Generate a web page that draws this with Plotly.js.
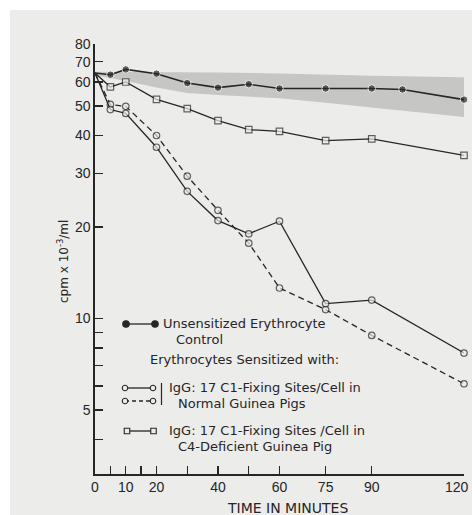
<!DOCTYPE html>
<html>
<head>
<meta charset="utf-8">
<script src="https://cdn.plot.ly/plotly-3.0.1.min.js"></script>
<style>
  html, body { margin: 0; padding: 0; background: #ffffff; }
  #chart { width: 472px; height: 515px; }
</style>
</head>
<body>
<div id="chart"></div>
<script>
// ---- data ----
const timeMinutes = [0, 5, 10, 20, 30, 40, 50, 60, 75, 90, 120];
const controlTimes = [0, 5, 10, 20, 30, 40, 50, 60, 75, 90, 100, 120];
const controlValues = [64.2, 63.4, 66.0, 63.9, 59.5, 57.5, 59.0, 57.1, 57.1, 57.1, 56.7, 52.5];
const normalSolidValues = [64.2, 48.7, 47.3, 36.6, 26.2, 21.0, 19.0, 20.9, 11.2, 11.5, 7.7];
const normalDashedValues = [64.2, 50.6, 49.9, 40.0, 29.4, 22.7, 17.7, 12.6, 10.7, 8.8, 6.1];
const c4DeficientValues = [64.2, 57.8, 60.0, 52.6, 49.0, 44.8, 41.8, 41.3, 38.5, 39.0, 34.4];
const bandTimes = [0, 10, 20, 30, 40, 60, 75, 90, 120];
const bandUpper = [64.8, 64.8, 64.8, 64.7, 64.5, 64.0, 63.4, 62.9, 62.2];
const bandLower = [63.1, 60.5, 57.5, 55.2, 54.4, 53.0, 51.3, 49.5, 46.0];

const xTickVals = [0, 5, 10, 15, 20, 30, 40, 50, 60, 75, 90, 120];
const xTickText = ['0', '', '10', '', '20', '', '40', '', '60', '75', '90', ''];
const xLastTickLabel = '120';
const yTickVals = [4, 5, 6, 7, 8, 9, 10, 20, 30, 40, 50, 60, 70, 80];
const yTickText = ['', '5', '', '', '', '', '10', '20', '30', '40', '50', '60', '70', '80'];

const xTitle = 'TIME IN MINUTES';
const yTitle = 'cpm x 10<sup>-3</sup>/ml';
const legendTexts = {
  control1: 'Unsensitized Erythrocyte',
  control2: 'Control',
  header: 'Erythrocytes Sensitized with:',
  normal1: 'IgG: 17 C1-Fixing Sites/Cell in',
  normal2: 'Normal Guinea Pigs',
  c4a: 'IgG: 17 C1-Fixing Sites /Cell in',
  c4b: 'C4-Deficient Guinea Pig'
};

// ---- styling / layout ----
const W = 472, H = 515;
const M = { l: 95, r: 8, t: 44, b: 41 };
const PW = W - M.l - M.r, PH = H - M.t - M.b;
const px2x = px => (px - M.l) / PW;
const px2y = py => (H - M.b - py) / PH;

const INK = '#262626';
const PAPER = '#ececea';
const BAND = '#c6c6c4';

const sizesFor = (t, s) => t.map(v => (v === 0 ? 0 : s));

const traces = [
  { x: bandTimes, y: bandLower, mode: 'lines', line: { width: 0, color: BAND },
    hoverinfo: 'skip', showlegend: false },
  { x: bandTimes, y: bandUpper, mode: 'lines', line: { width: 0, color: BAND },
    fill: 'tonexty', fillcolor: BAND, hoverinfo: 'skip', showlegend: false },
  { x: timeMinutes, y: c4DeficientValues, mode: 'lines+markers', cliponaxis: false,
    line: { color: INK, width: 1.3 },
    marker: { symbol: 'square', size: sizesFor(timeMinutes, 6.5), color: PAPER, line: { color: INK, width: 1.2 } } },
  { x: timeMinutes, y: normalDashedValues, mode: 'lines+markers', cliponaxis: false,
    line: { color: INK, width: 1.3, dash: '6px,4px' },
    marker: { symbol: 'circle', size: sizesFor(timeMinutes, 6.5), color: PAPER, line: { color: INK, width: 1.2 } } },
  { x: timeMinutes, y: normalSolidValues, mode: 'lines+markers', cliponaxis: false,
    line: { color: INK, width: 1.3 },
    marker: { symbol: 'circle', size: sizesFor(timeMinutes, 6.5), color: PAPER, line: { color: INK, width: 1.2 } } },
  { x: controlTimes, y: controlValues, mode: 'lines+markers', cliponaxis: false,
    line: { color: INK, width: 1.6 },
    marker: { symbol: 'circle', size: sizesFor(controlTimes, 7.5), color: INK } }
];

// legend samples on an overlay axis measured in pixels
const legendSamples = [
  { y: 324, x: [126, 155], symbol: 'circle', filled: true, dash: 'solid', size: 6.5 },
  { y: 388, x: [125, 153], symbol: 'circle', filled: false, dash: 'solid', size: 5.5 },
  { y: 401, x: [125, 153], symbol: 'circle', filled: false, dash: '4px,3px', size: 5.5 },
  { y: 431, x: [127, 153.5], symbol: 'square', filled: false, dash: 'solid', size: 5.5 }
];
legendSamples.forEach(s => {
  traces.push({
    x: s.x, y: [s.y, s.y], xaxis: 'x2', yaxis: 'y2', mode: 'lines+markers',
    cliponaxis: false, hoverinfo: 'skip',
    line: { color: INK, width: 1.3, dash: s.dash },
    marker: { symbol: s.symbol, size: s.size, color: s.filled ? INK : PAPER,
              line: { color: INK, width: 1.1 } }
  });
});

const txtFont = { family: 'DejaVu Sans, sans-serif', size: 13, color: INK };
const tickFont = { family: 'Liberation Sans, sans-serif', size: 14, color: INK };
const ann = (text, x, y, extra) => Object.assign({
  text, xref: 'paper', yref: 'paper', x: px2x(x), y: px2y(y),
  xanchor: 'left', yanchor: 'middle', showarrow: false, font: txtFont
}, extra || {});

const annotations = [
  ann(legendTexts.control1, 161, 323.5),
  ann(legendTexts.control2, 174, 339.5),
  ann(legendTexts.header, 148, 359.5),
  ann(legendTexts.normal1, 167, 387),
  ann(legendTexts.normal2, 176, 403),
  ann(legendTexts.c4a, 167, 430),
  ann(legendTexts.c4b, 176, 446),
  ann(xTitle, 287, 508, { xanchor: 'center', font: { family: 'DejaVu Sans, sans-serif', size: 14, color: INK } }),
  ann(yTitle, 63, 262, { xanchor: 'center', textangle: -90, font: { family: 'DejaVu Sans, sans-serif', size: 12, color: INK } }),
  // last x tick label, kept inside the picture's right edge
  { text: xLastTickLabel, xref: 'x', yref: 'paper',
    x: xTickVals[xTickVals.length - 1], xshift: 7, y: px2y(487),
    xanchor: 'right', yanchor: 'middle', showarrow: false, font: tickFont }
];

const shapes = [
  { type: 'rect', xref: 'paper', yref: 'paper', layer: 'below',
    x0: px2x(10), x1: px2x(480), y0: px2y(530), y1: px2y(10),
    fillcolor: PAPER, line: { width: 0 } },
  { type: 'line', xref: 'paper', yref: 'paper',
    x0: px2x(161.5), x1: px2x(161.5), y0: px2y(383), y1: px2y(405),
    line: { color: INK, width: 1.2 } }
];

const layout = {
  width: W, height: H,
  margin: M,
  paper_bgcolor: '#ffffff',
  plot_bgcolor: 'rgba(0,0,0,0)',
  showlegend: false,
  font: { family: 'Liberation Sans, sans-serif', color: INK },
  xaxis: {
    range: [0, 120], showgrid: false, zeroline: false,
    showline: true, linecolor: INK, linewidth: 1.6,
    ticks: 'inside', ticklen: 8, tickwidth: 1.3, tickcolor: INK,
    tickvals: xTickVals, ticktext: xTickText,
    tickfont: tickFont,
    fixedrange: true
  },
  yaxis: {
    type: 'log', range: [Math.log10(3.08), Math.log10(80)],
    showgrid: false, zeroline: false,
    showline: true, linecolor: INK, linewidth: 1.6,
    ticks: 'inside', ticklen: 8, tickwidth: 1.3, tickcolor: INK,
    tickvals: yTickVals, ticktext: yTickText,
    tickfont: tickFont,
    fixedrange: true
  },
  xaxis2: { overlaying: 'x', anchor: 'y2', range: [M.l, W - M.r], visible: false, fixedrange: true },
  yaxis2: { overlaying: 'y', anchor: 'x2', range: [H - M.b, M.t], visible: false, fixedrange: true },
  annotations, shapes
};

Plotly.newPlot('chart', traces, layout, { staticPlot: true, displayModeBar: false });
</script>
</body>
</html>
